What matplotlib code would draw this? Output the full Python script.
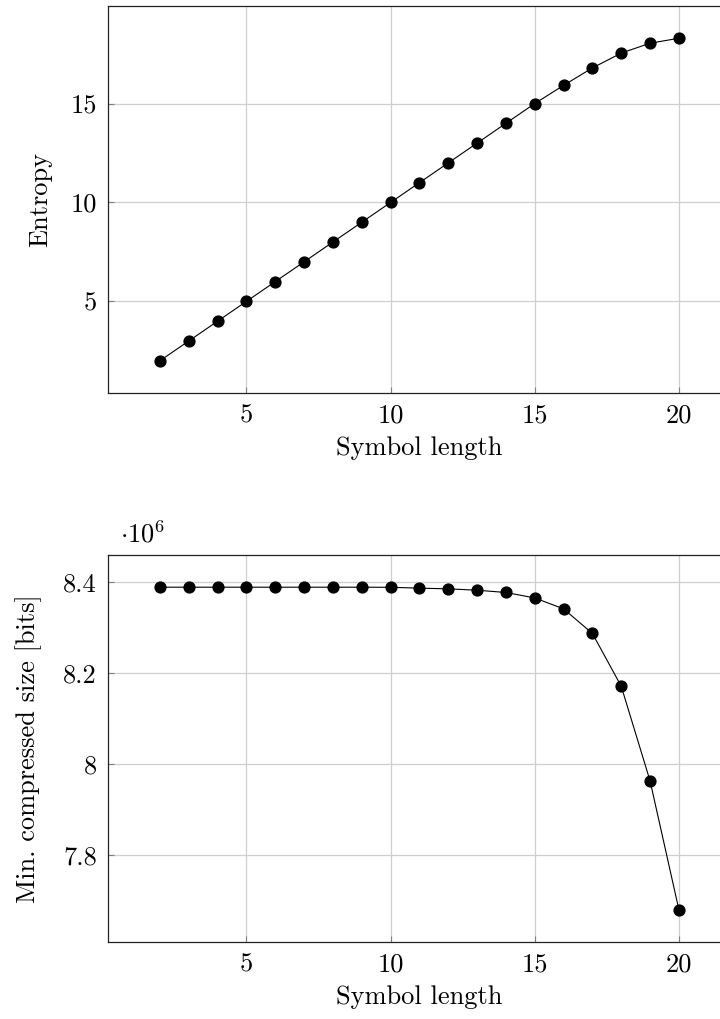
import matplotlib
matplotlib.use("Agg")
import matplotlib.pyplot as plt

plt.rcParams["font.family"] = "cmr10"
plt.rcParams["mathtext.fontset"] = "cm"
plt.rcParams["axes.formatter.use_mathtext"] = True

# Symbol length vs. entropy and minimum compressed size
symbol_length = [2, 3, 4, 5, 6, 7, 8, 9, 10, 11, 12, 13, 14, 15, 16, 17, 18, 19, 20]
entropy = [2, 3, 4, 5, 6, 7, 8, 9, 10, 11, 12, 13, 14, 15,
           15.92, 16.8, 17.55, 18.05, 18.3]
min_size_bits = [8388608, 8388608, 8388608, 8388608, 8388608, 8388608, 8388608,
                 8388600, 8388400, 8386500, 8385000, 8382000, 8377000, 8365000,
                 8341000, 8287000, 8171000, 7963000, 7680000]

x_ticks = [5, 10, 15, 20]
entropy_ticks = [5, 10, 15]
size_ticks = [7.8e6, 8.0e6, 8.2e6, 8.4e6]

FS = 19
fig = plt.figure(figsize=(7.2, 10.19), dpi=100)
ax1 = fig.add_axes([0.15, 0.6143, 0.865, 0.3798])
ax2 = fig.add_axes([0.15, 0.0756, 0.865, 0.3798])


def enlarged(lo, hi, frac=0.1):
    r = hi - lo
    return lo - frac * r, hi + frac * r


for ax, y in ((ax1, entropy), (ax2, min_size_bits)):
    ax.plot(symbol_length, y, color="black", lw=0.8, marker="o",
            markersize=7.8, markerfacecolor="black", markeredgecolor="black",
            zorder=3)
    ax.set_xlim(*enlarged(min(symbol_length), max(symbol_length)))
    ax.set_ylim(*enlarged(min(y), max(y)))
    ax.set_xticks(x_ticks)
    ax.set_xticklabels([str(t) for t in x_ticks])
    ax.grid(True, color="#cfcfcf", lw=0.9, zorder=0)
    ax.set_axisbelow(True)
    ax.tick_params(direction="in", length=4, width=0.8, color="#7f7f7f",
                   labelsize=FS, pad=8)
    for s in ax.spines.values():
        s.set_linewidth(0.9)
        s.set_color("#222222")
    ax.set_xlabel("Symbol length", fontsize=FS, labelpad=6)

ax1.set_yticks(entropy_ticks)
ax1.set_yticklabels([str(t) for t in entropy_ticks])
ax1.set_ylabel("Entropy", fontsize=FS)
ax1.yaxis.set_label_coords(-0.09, 0.5)

ax2.set_yticks(size_ticks)
ax2.set_yticklabels(["{:g}".format(t / 1e6) for t in size_ticks])
ax2.set_ylabel("Min. compressed size [bits]", fontsize=FS)
ax2.yaxis.set_label_coords(-0.106, 0.5)
ax2.text(0.019, 1.031, r"$\cdot 10^{6}$", transform=ax2.transAxes,
         fontsize=FS, ha="left", va="baseline")

fig.savefig("out.png", dpi=100)
